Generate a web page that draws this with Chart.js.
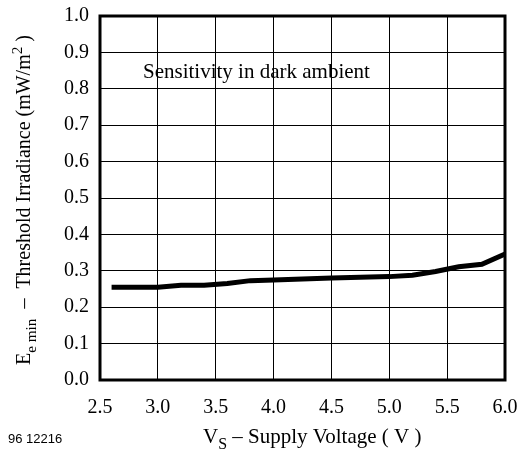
<!DOCTYPE html>
<html>
<head>
<meta charset="utf-8">
<script src="https://cdn.jsdelivr.net/npm/chart.js@4/dist/chart.umd.min.js"></script>
<style>
  html, body { margin: 0; padding: 0; background: #fff; }
  #wrap { width: 520px; height: 452px; position: relative; }
</style>
</head>
<body>
<div id="wrap"><canvas id="chart"></canvas></div>
<script>
// ── Data ───────────────────────────────────────────────────────────────────
const voltages   = [2.6, 3.0, 3.2, 3.4, 3.6, 3.8, 4.0, 4.5, 5.0, 5.2, 5.4, 5.6, 5.8, 6.0];
const irradiance = [0.255, 0.255, 0.26, 0.26, 0.265, 0.273, 0.275, 0.28, 0.284, 0.288, 0.298, 0.311, 0.318, 0.346];

const xTicks = [2.5, 3.0, 3.5, 4.0, 4.5, 5.0, 5.5, 6.0];
const yTicks = [0.0, 0.1, 0.2, 0.3, 0.4, 0.5, 0.6, 0.7, 0.8, 0.9, 1.0];

const serif = '"Liberation Serif", "DejaVu Serif", serif';

// draw a run of [text, 'n'|'sub'|'sup'] pieces starting at x
function drawRich(ctx, parts, x, y, size) {
  parts.forEach(([txt, kind]) => {
    const s = kind === 'n' ? size : size * 0.76;
    const dy = kind === 'sub' ? size * 0.28 : kind === 'sup' ? -size * 0.38 : 0;
    ctx.font = `${s}px ${serif}`;
    ctx.fillText(txt, x, y + dy);
    x += ctx.measureText(txt).width;
  });
}
function richWidth(ctx, parts, size) {
  let w = 0;
  parts.forEach(([txt, kind]) => {
    ctx.font = `${kind === 'n' ? size : size * 0.76}px ${serif}`;
    w += ctx.measureText(txt).width;
  });
  return w;
}

const decorations = {
  id: 'decorations',
  afterDraw(chart) {
    const { ctx, chartArea: a } = chart;
    ctx.save();
    // heavy frame
    ctx.strokeStyle = '#000';
    ctx.lineWidth = 3;
    ctx.strokeRect(a.left, a.top, a.right - a.left, a.bottom - a.top);

    ctx.fillStyle = '#000';
    ctx.textBaseline = 'alphabetic';
    ctx.textAlign = 'left';

    // annotation
    ctx.font = `21px ${serif}`;
    ctx.fillText('Sensitivity in dark ambient', 143, 78);

    // x title
    const xParts = [['V', 'n'], ['S', 'sub'], [' \u2013 Supply Voltage ( V )', 'n']];
    drawRich(ctx, xParts, 203, 443, 21);

    // y title (rotated)
    const yParts = [['E', 'n'], ['e min', 'sub'], ['  \u2013  Threshold Irradiance (mW/m', 'n'], ['2', 'sup'], [' )', 'n']];
    const w = richWidth(ctx, yParts, 20);
    ctx.save();
    ctx.translate(30, 200);
    ctx.rotate(-Math.PI / 2);
    drawRich(ctx, yParts, -w / 2, 0, 20);
    ctx.restore();

    // figure number
    ctx.font = '13px "Liberation Sans", Arial, sans-serif';
    ctx.fillText('96 12216', 8, 443);
    ctx.restore();
  }
};

new Chart(document.getElementById('chart').getContext('2d'), {
  type: 'line',
  data: {
    datasets: [{
      data: voltages.map((v, i) => ({ x: v, y: irradiance[i] })),
      borderColor: '#000',
      borderWidth: 5,
      pointRadius: 0,
      tension: 0,
      fill: false,
    }],
  },
  options: {
    responsive: true,
    maintainAspectRatio: false,
    animation: false,
    layout: { padding: { top: 16, right: 15, left: 0, bottom: 0 } },
    plugins: { legend: { display: false }, tooltip: { enabled: false } },
    scales: {
      x: {
        type: 'linear',
        min: 2.5,
        max: 6.0,
        afterBuildTicks: s => { s.ticks = xTicks.map(v => ({ value: v })); },
        afterFit: s => { s.height = 72; s.paddingLeft = 0; s.paddingRight = 0; },
        ticks: {
          color: '#000',
          padding: 16,
          font: { family: serif, size: 20 },
          callback: v => v.toFixed(1),
        },
        grid: { color: '#000', lineWidth: 1, drawTicks: false },
        border: { display: false },
      },
      y: {
        min: 0,
        max: 1,
        afterBuildTicks: s => { s.ticks = yTicks.map(v => ({ value: v })); },
        afterFit: s => { s.width = 100; s.paddingTop = 0; s.paddingBottom = 0; },
        ticks: {
          color: '#000',
          padding: 11,
          font: { family: serif, size: 20 },
          callback: v => v.toFixed(1),
        },
        grid: { color: '#000', lineWidth: 1, drawTicks: false },
        border: { display: false },
      },
    },
  },
  plugins: [decorations],
});
</script>
</body>
</html>
